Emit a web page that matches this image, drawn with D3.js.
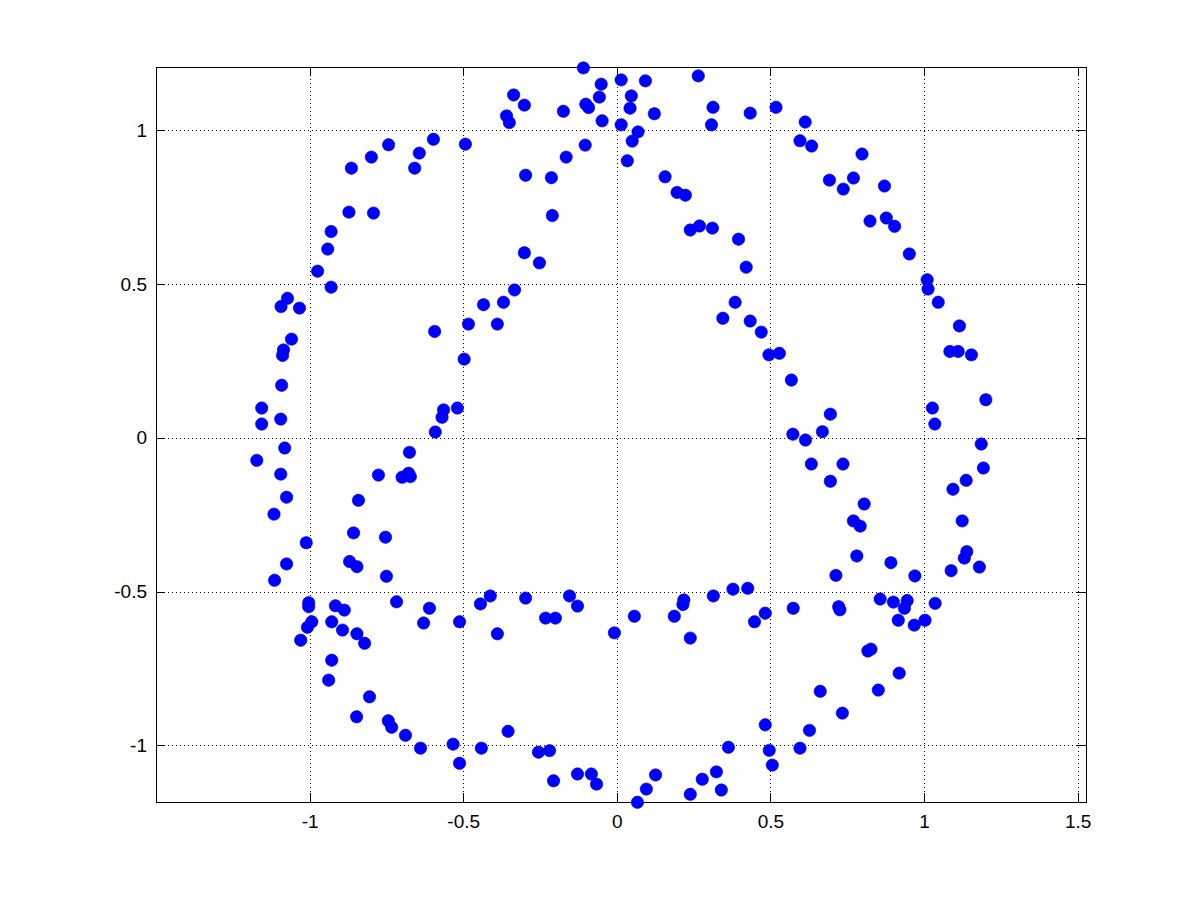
<!DOCTYPE html>
<html lang="en">
    <head>
        <meta charset="utf-8">
        <title>Scatter</title>
        <script src="https://d3js.org/d3.v7.min.js"></script>
        <style type="text/css">
            body { margin: 0; background: #fff; }
            .tick text { font-family: "Liberation Sans", Arial, sans-serif; font-size: 19px; fill: #000; }
            .grid line { stroke: #000; stroke-width: 1; stroke-dasharray: 1,3; shape-rendering: crispEdges; }
        </style>
    </head>
    <body>
        <svg width="1201" height="901"></svg>
        <script type="text/javascript">

            const xValues = [
                -0.743, -0.799, -0.864, -0.597, -0.643, -0.658, -0.493, -0.872, -0.792, -0.930,
                -0.941, -0.974, -0.930, -1.072, -1.093, -1.033, -0.434,
                -0.109, -0.051, 0.014, 0.093, 0.265, -0.336, -0.301, -0.359, -0.350, -0.174,
                -0.101, -0.092, -0.057, -0.048, 0.047, 0.043, 0.014, 0.122, 0.313, 0.308,
                0.069, 0.050, -0.103, -0.165, 0.034, -0.297, -0.213, 0.157, 0.196, 0.223,
                -0.210, 0.239, 0.269, 0.311, 0.396, -0.301, -0.252, 0.421, -0.333, -0.369, 0.385,
                0.434, 0.518, 0.613, 0.596, 0.634, 0.798, 0.692, 0.737, 0.770, 0.871,
                0.824, 0.877, 0.904, 0.952, 1.010, 1.013, 1.046,
                -1.059, -1.085, -1.088, -1.091, -1.156, -1.094, -1.156, -1.081, -1.172, -1.094,
                -1.075, -1.116, -1.011, -1.075, -0.870, -0.846, -0.857, -0.753, -0.841, -0.776,
                -0.699, -0.678, -0.672, -0.675, -0.591, -0.569, -0.564, -0.519, -0.497, -0.593,
                -0.483, -0.389,
                0.345,
                0.434, 0.470, 0.495, 0.529, 0.568, 0.695, 0.573, 0.614, 0.669, 0.633,
                0.736, 0.695, 0.805, 0.770, 0.792, 0.781, 0.892, 1.115, 1.084, 1.111,
                1.154, 1.201, 1.027, 1.035, 1.186, 1.193, 1.137, 1.094, 1.124, 1.139, 1.131,
                1.088, 1.180, 0.713, 0.970, 0.426, 0.857, 0.900, 0.945, 0.936, 1.036,
                0.483, 0.448, 0.574, 0.722, 0.726, 0.916, 0.968, 1.003, 0.817, 0.827,
                0.919, 0.851, 0.662, 0.734, 0.627, 0.483, 0.596, 0.496, 0.506,
                -1.114, -0.750, -1.003, -1.003, -0.916, -0.887, -0.717, -0.610, -0.993, -1.007,
                -0.928, -0.893, -0.846, -0.821, -1.029, -0.629, -0.512, -0.444, -0.412, -0.389,
                -0.928, -0.938, -0.805, -0.847, -0.744, -0.733, -0.688, -0.639, -0.533, -0.512, -0.441,
                -0.297, -0.154, -0.128, -0.232, -0.200, -0.008, 0.057, 0.187, 0.218, 0.215,
                0.239, 0.314, 0.378, -0.354, -0.255, -0.219, 0.363, -0.206, -0.128, -0.083,
                -0.066, 0.126, 0.096, 0.067, 0.239, 0.278, 0.324, 0.340
            ];

            const yValues = [
                0.953, 0.913, 0.877, 0.971, 0.926, 0.877, 0.955, 0.734, 0.731, 0.671,
                0.614, 0.542, 0.490, 0.454, 0.427, 0.422, 0.433,
                1.203, 1.150, 1.164, 1.161, 1.177, 1.115, 1.082, 1.047, 1.025, 1.062,
                1.085, 1.074, 1.108, 1.031, 1.112, 1.072, 1.018, 1.054, 1.075, 1.018,
                0.995, 0.965, 0.952, 0.913, 0.901, 0.854, 0.846, 0.849, 0.798, 0.789,
                0.723, 0.676, 0.689, 0.682, 0.646, 0.602, 0.569, 0.555, 0.481, 0.441, 0.441,
                1.056, 1.075, 1.027, 0.966, 0.949, 0.923, 0.838, 0.809, 0.845, 0.819,
                0.705, 0.715, 0.688, 0.598, 0.514, 0.484, 0.441,
                0.321, 0.286, 0.268, 0.171, 0.097, 0.061, 0.045, -0.033, -0.073, -0.118,
                -0.193, -0.248, -0.341, -0.410, -0.402, -0.419, -0.309, -0.323, -0.203, -0.121,
                -0.128, -0.115, -0.126, -0.047, 0.019, 0.067, 0.091, 0.097, 0.256, 0.346,
                0.370, 0.370,
                0.389,
                0.380, 0.344, 0.270, 0.275, 0.188, 0.077, 0.012, -0.007, 0.020, -0.085,
                -0.085, -0.141, -0.215, -0.270, -0.287, -0.384, -0.406, 0.364, 0.281, 0.281,
                0.270, 0.124, 0.097, 0.045, -0.020, -0.098, -0.138, -0.167, -0.270, -0.370, -0.391,
                -0.432, -0.420, -0.447, -0.449, -0.489, -0.524, -0.534, -0.529, -0.554, -0.538,
                -0.570, -0.598, -0.554, -0.549, -0.559, -0.593, -0.609, -0.593, -0.693, -0.687,
                -0.765, -0.820, -0.824, -0.895, -0.951, -0.933, -1.009, -1.016, -1.064,
                -0.463, -0.450, -0.536, -0.549, -0.546, -0.560, -0.533, -0.554, -0.598, -0.616,
                -0.598, -0.625, -0.637, -0.668, -0.658, -0.602, -0.598, -0.540, -0.514, -0.637,
                -0.723, -0.788, -0.842, -0.907, -0.920, -0.941, -0.967, -1.009, -0.996, -1.058, -1.009,
                -0.521, -0.514, -0.547, -0.586, -0.586, -0.634, -0.580, -0.580, -0.527, -0.542,
                -0.651, -0.514, -0.492, -0.954, -1.022, -1.017, -1.006, -1.115, -1.093, -1.093,
                -1.126, -1.096, -1.142, -1.185, -1.159, -1.110, -1.086, -1.145
            ];

            const xTicks = [-1, -0.5, 0, 0.5, 1, 1.5];
            const xTickLabels = ["-1", "-0.5", "0", "0.5", "1", "1.5"];
            const yTicks = [-1, -0.5, 0, 0.5, 1];
            const yTickLabels = ["-1", "-0.5", "0", "0.5", "1"];

            const svg = d3.select("svg");
            const pLeft = 156, pRight = 1086, pTop = 67, pBottom = 802;

            const x = d3.scaleLinear().domain([-1.5, 1.527]).range([pLeft, pRight]);
            const y = d3.scaleLinear().domain([-1.184, 1.206]).range([pBottom, pTop]);

            const px = v => Math.round(x(v)) + 0.5;
            const py = v => Math.round(y(v)) + 0.5;

            // dotted grid
            const grid = svg.append("g").attr("class", "grid");
            grid.selectAll(".gx").data(xTicks).enter().append("line")
                .attr("x1", px).attr("x2", px)
                .attr("y1", pTop).attr("y2", pBottom);
            grid.selectAll(".gy").data(yTicks).enter().append("line")
                .attr("y1", py).attr("y2", py)
                .attr("x1", pLeft).attr("x2", pRight);

            // axes, ticks pointing inward
            const tk = 9;
            svg.append("g")
               .attr("transform", `translate(0,${pBottom})`)
               .call(d3.axisBottom(x).tickValues(xTicks).tickSize(-tk).tickPadding(13)
                     .tickFormat((d, i) => xTickLabels[i]));
            svg.append("g")
               .attr("transform", `translate(0,${pTop})`)
               .call(d3.axisTop(x).tickValues(xTicks).tickSize(-tk).tickFormat(""));
            svg.append("g")
               .attr("transform", `translate(${pLeft},0)`)
               .call(d3.axisLeft(y).tickValues(yTicks).tickSize(-tk).tickPadding(9)
                     .tickFormat((d, i) => yTickLabels[i]));
            svg.append("g")
               .attr("transform", `translate(${pRight},0)`)
               .call(d3.axisRight(y).tickValues(yTicks).tickSize(-tk).tickFormat(""));

            svg.selectAll(".domain").attr("stroke", "#000").attr("shape-rendering", "crispEdges");
            svg.selectAll(".tick line").attr("stroke", "#000").attr("shape-rendering", "crispEdges");
            svg.selectAll(".tick text").attr("font-size", null).attr("font-family", null);

            // markers
            svg.append("g").selectAll("circle")
               .data(xValues.map((d, i) => [d, yValues[i]]))
               .enter()
               .append("circle")
               .attr("cx", d => x(d[0]))
               .attr("cy", d => y(d[1]))
               .attr("r", 6.2)
               .style("fill", "#0000ff")
               .style("stroke", "#0000cc")
               .style("stroke-width", 0.6);

        </script>
    </body>
</html>
